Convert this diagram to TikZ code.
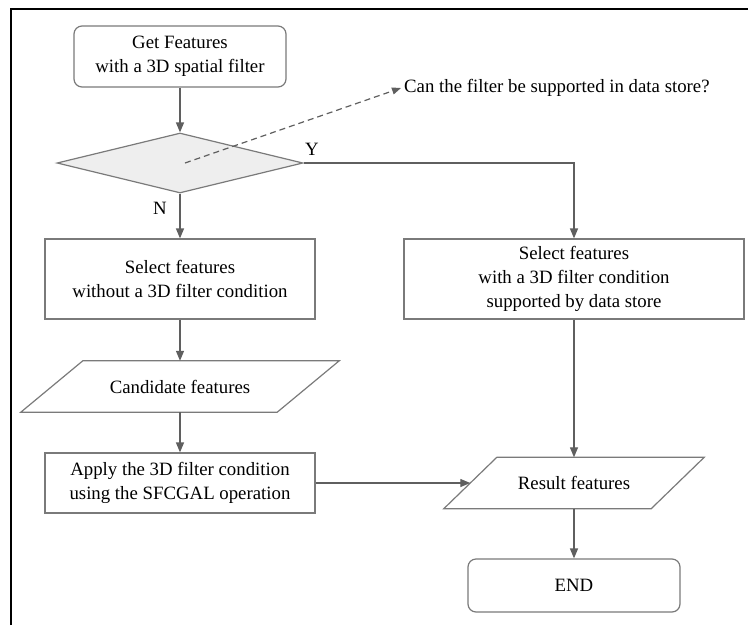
\documentclass[tikz,border=0pt]{standalone}
\usepackage{fontspec}
\setmainfont{Liberation Serif}
\usetikzlibrary{shapes.geometric,arrows.meta}
\definecolor{cgray}{HTML}{5F5F5F}
\definecolor{bgray}{HTML}{7A7A7A}
\definecolor{dfill}{HTML}{EEEEEE}
\newcommand\drawpara[2]{\draw[bgray, line width=1.2pt, line join=miter] ([xshift=-#2]#1.south west) -- ([xshift=#2]#1.north west) -- ([xshift=#2]#1.north east) -- ([xshift=-#2]#1.south east) -- cycle;}
\begin{document}
\begin{tikzpicture}[x=1pt,y=-1pt,
  every node/.style={font=\fontsize{18.8}{24}\selectfont, align=center, inner sep=0pt, text=black},
  proc/.style={draw=bgray, line width=1.2pt, rectangle},
  rproc/.style={proc, rounded corners=8pt},
  decide/.style={draw=bgray, fill=dfill, line width=1.2pt, diamond, inner sep=0pt},
  paranode/.style={rectangle, draw=none},
  arr/.style={draw=cgray, line width=1.3pt, -{Triangle[length=10pt,width=8pt]}},
  dasharr/.style={draw=cgray, line width=1.2pt, dash pattern=on 6pt off 4pt, -{Triangle[length=9pt,width=7pt]}},
  lbl/.style={font=\fontsize{18.8}{24}\selectfont}
]
\useasboundingbox (0,0) rectangle (748,625);
% frame
\draw[black, line width=2pt] (11,625) -- (11,9) -- (748,9);

% nodes
\node[rproc, minimum width=212pt, minimum height=61pt] (start) at (180,56.5) {Get Features\\with a 3D spatial filter};
\node[decide, minimum width=246pt, minimum height=60pt] (dia) at (180,163) {};
\node[proc, minimum width=270pt, minimum height=80pt] (sel1) at (180,279) {Select features\\without a 3D filter condition};
\node[proc, minimum width=340pt, minimum height=80pt] (sel2) at (574,279) {Select features\\with a 3D filter condition\\supported by data store};
\node[paranode, minimum width=256pt, minimum height=51pt] (cand) at (180,386.5) {Candidate features};
\drawpara{cand}{31pt}
\node[proc, minimum width=270pt, minimum height=60pt] (apply) at (180,483) {Apply the 3D filter condition\\using the SFCGAL operation};
\node[paranode, minimum width=207pt, minimum height=51pt] (res) at (574,483) {Result features};
\drawpara{res}{26.5pt}
\node[rproc, minimum width=212pt, minimum height=53pt] (end) at (574,585.5) {END};

% question note
\node[anchor=west, inner sep=3pt] (q) at (401,88) {Can the filter be supported in data store?};
\coordinate (dq) at (185,163);
\draw[dasharr] (dq) -- (q.west);

% labels
\node[lbl] (ylab) at (312,149) {Y};
\node[lbl] (nlab) at (160,208) {N};

% connectors
\draw[arr] (start.south) -- (dia.north);
\draw[arr] (dia.south) -- (sel1.north);
\draw[arr] (dia.east) -| (sel2.north);
\draw[arr] (sel1.south) -- (cand.north);
\draw[arr] (cand.south) -- (apply.north);
\draw[arr] (apply.east) -- (res.west);
\draw[arr] (sel2.south) -- (res.north);
\draw[arr] (res.south) -- (end.north);
\end{tikzpicture}
\end{document}
